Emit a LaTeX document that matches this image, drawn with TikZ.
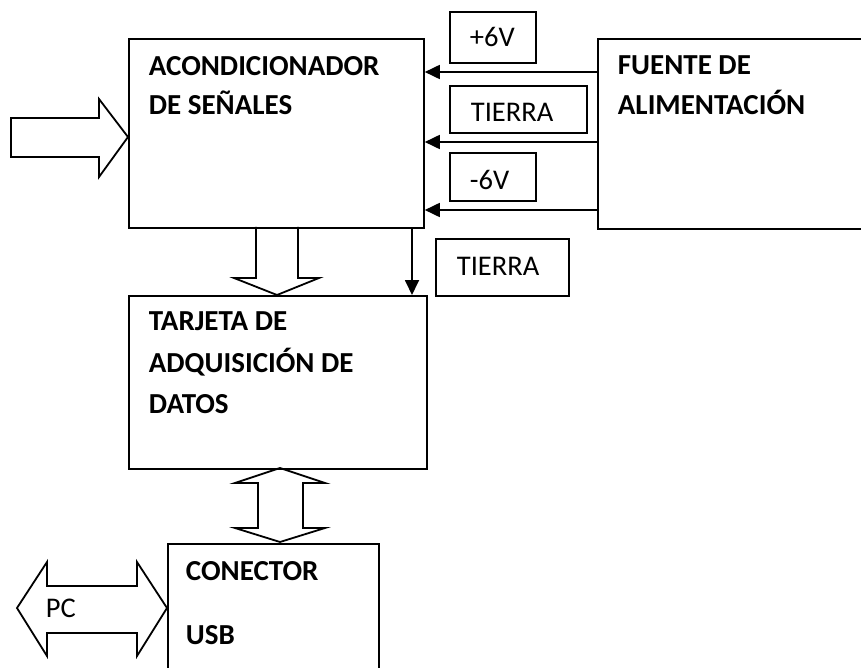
\documentclass[tikz,border=0pt]{standalone}
\usepackage{fontspec}
\setmainfont{Carlito}
\usetikzlibrary{arrows.meta}
\begin{document}
\begin{tikzpicture}[x=1pt,y=-1pt,line width=1.8pt,
 box/.style={draw,rectangle,anchor=north west,inner sep=0pt,line width=1.8pt},
 btxt/.style={anchor=base west,inner sep=0pt,font=\fontsize{29}{34}\selectfont\bfseries},
 rtxt/.style={anchor=base west,inner sep=0pt,font=\fontsize{28.5}{34}\selectfont},
 wire/.style={line width=1.8pt,-{Triangle[length=15pt,width=14pt]}},
 block/.style={draw,line width=1.8pt,line join=miter}]
\useasboundingbox (0,0) rectangle (861,668);
% main boxes
\node[box,minimum width=295pt,minimum height=189pt] (acond) at (128,38) {};
\node[box,minimum width=290pt,minimum height=190pt] (fuente) at (597,38) {};
\node[box,minimum width=298pt,minimum height=173pt] (tarjeta) at (128,295) {};
\node[box,minimum width=211pt,minimum height=150pt] (conector) at (167,543) {};
% label boxes
\node[box,minimum width=86pt,minimum height=51pt] (l6p) at (449,11) {};
\node[box,minimum width=137pt,minimum height=47pt] (ltA) at (449,85) {};
\node[box,minimum width=86pt,minimum height=48pt] (l6n) at (449,152) {};
\node[box,minimum width=133pt,minimum height=57pt] (ltB) at (435,238) {};
% texts
\node[btxt] (t1) at (148,76) {ACONDICIONADOR};
\node[btxt] (t2) at (148,115) {DE SEÑALES};
\node[btxt] (t3) at (617,75) {FUENTE DE};
\node[btxt] (t4) at (617,115) {ALIMENTACIÓN};
\node[btxt] (t5) at (148,330) {TARJETA DE};
\node[btxt] (t6) at (148,372) {ADQUISICIÓN DE};
\node[btxt] (t7) at (148,413) {DATOS};
\node[btxt] (t8) at (185,580) {CONECTOR};
\node[btxt] (t9) at (185,644) {USB};
\node[rtxt] (r1) at (469,47) {+6V};
\node[rtxt] (r2) at (470,122) {TIERRA};
\node[rtxt] (r3) at (469,190) {-6V};
\node[rtxt] (r4) at (456,275) {TIERRA};
\node[rtxt] (r5) at (45,617) {PC};
% wires
\draw[wire] (fuente.west |- 0,72) -- (acond.east |- 0,72);
\draw[wire] (fuente.west |- 0,142) -- (acond.east |- 0,142);
\draw[wire] (fuente.west |- 0,210) -- (acond.east |- 0,210);
\draw[wire] (acond.south -| 412,0) -- (tarjeta.north -| 412,0);
% block arrows
\draw[block] (256,227) -- (256,278) -- (234,278) -- (277,295) -- (319,278) -- (298,278) -- (298,227);
\draw[block] (11,118) -- (99,118) -- (99,99) -- (128,137) -- (99,177) -- (99,157) -- (11,157) -- cycle;
\draw[block] (280,468) -- (325,483) -- (303,483) -- (303,528) -- (325,528) -- (280,542) -- (235,528) -- (258,528) -- (258,483) -- (235,483) -- cycle;
\draw[block] (17,608) -- (47,562) -- (47,586) -- (137,586) -- (137,562) -- (167,608) -- (137,656) -- (137,633) -- (47,633) -- (47,656) -- cycle;
\end{tikzpicture}
\end{document}
